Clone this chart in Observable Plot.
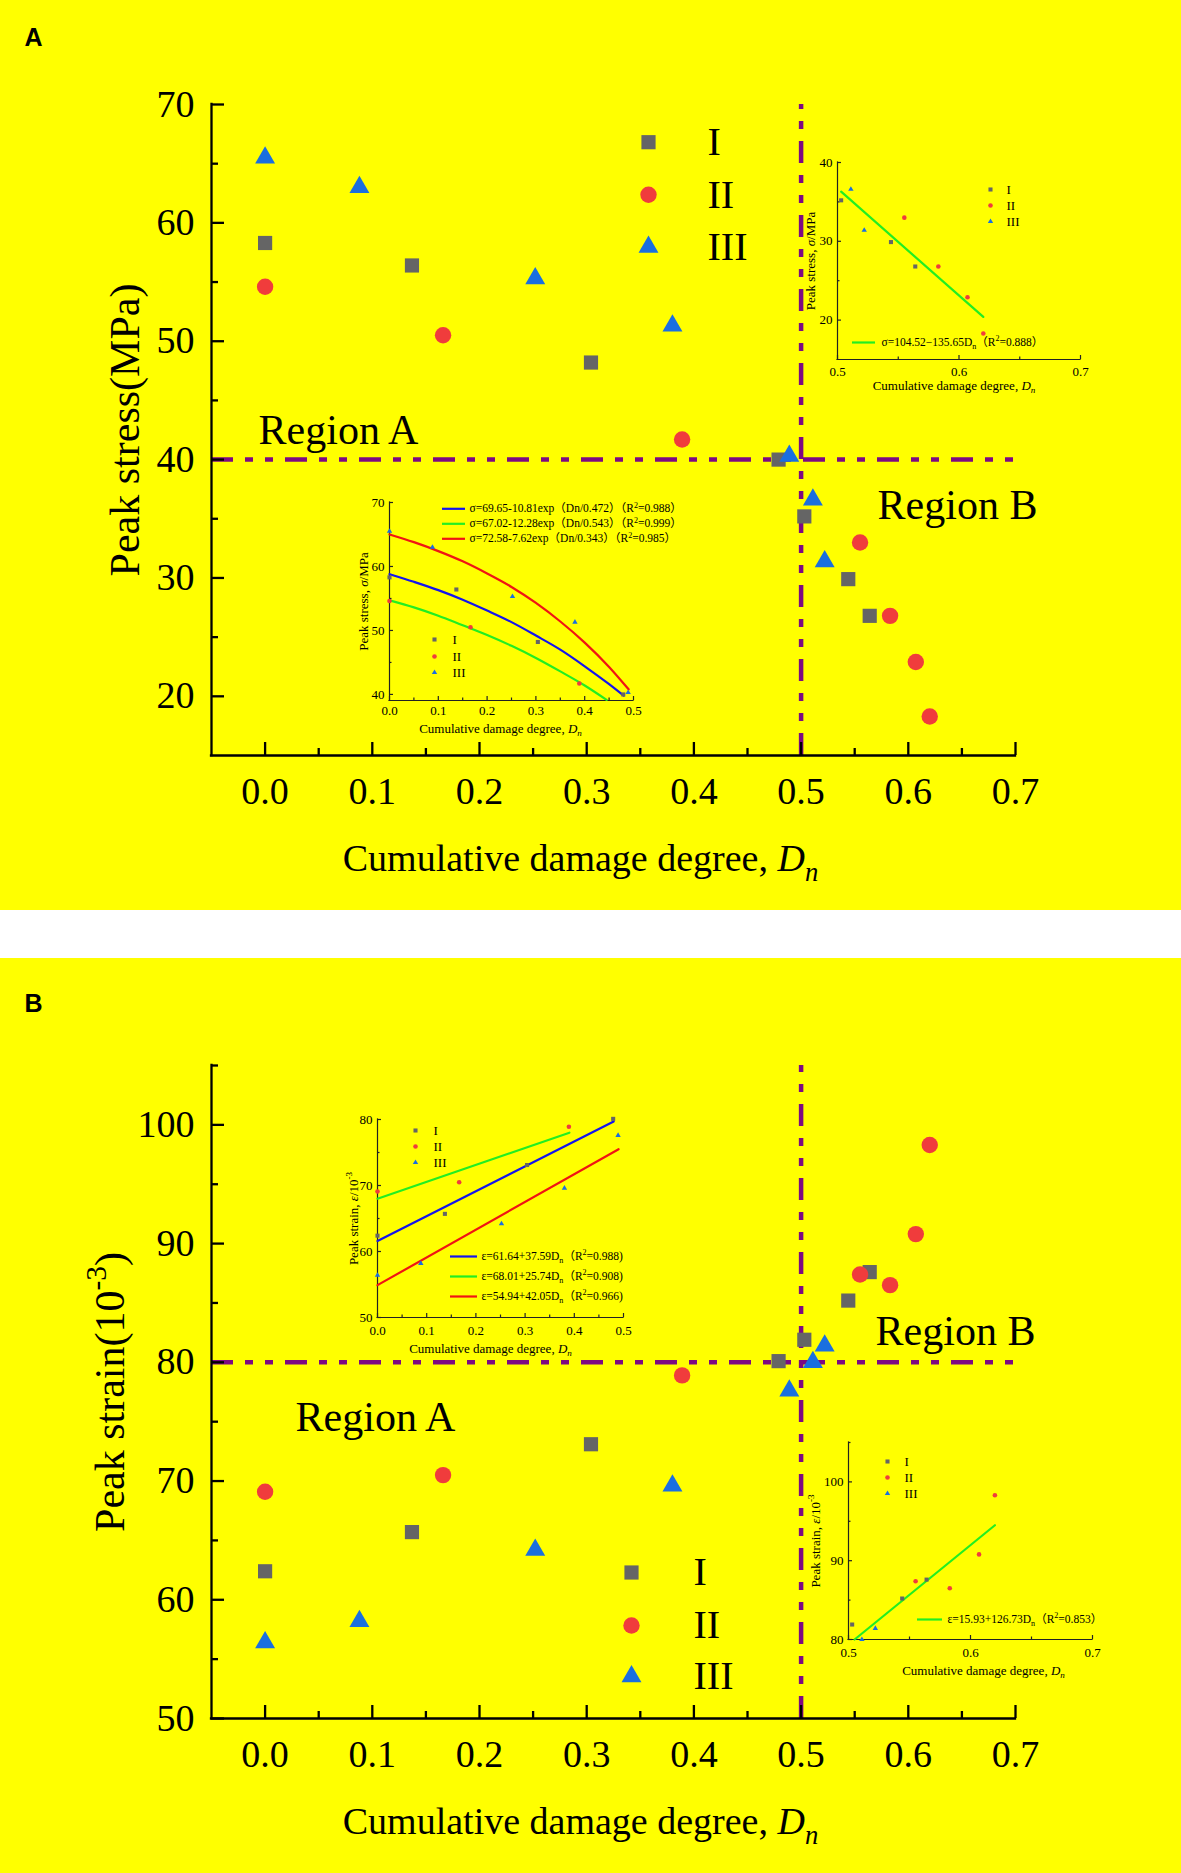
<!DOCTYPE html>
<html><head><meta charset="utf-8">
<script src="https://cdn.jsdelivr.net/npm/d3@7"></script>
<script src="https://cdn.jsdelivr.net/npm/@observablehq/plot@0.6"></script>
<style>
body{margin:0;background:#fff;}
#root{position:relative;width:1181px;height:1873px;background:#fff;overflow:hidden;}
#root svg{position:absolute;max-width:none;}
</style></head><body><div id="root"></div>
<script>
// ---------- data ----------
const series = ["I", "II", "III"];
const seriesColors = ["#656565", "#f03c3c", "#1a6fdf"];
const seriesSymbols = ["square", "circle", "triangle"];

// cumulative damage degree Dn of each sample
const dI = [0, 0.137, 0.304, 0.479, 0.503, 0.544, 0.564];
const dII = [0, 0.166, 0.389, 0.555, 0.583, 0.607, 0.620];
const dIII = [0, 0.088, 0.252, 0.380, 0.489, 0.511, 0.522];

// peak stress (MPa)
const stressI = [58.3, 56.4, 48.2, 40.0, 35.2, 29.9, 26.8];
const stressII = [54.6, 50.5, 41.7, 33.0, 26.8, 22.9, 18.3];
const stressIII = [65.5, 63.0, 55.3, 51.3, 40.3, 36.6, 31.4];

// peak strain (10^-3)
const strainI = [62.4, 65.7, 73.1, 80.1, 81.9, 85.2, 87.6];
const strainII = [69.1, 70.5, 78.9, 87.4, 86.5, 90.8, 98.3];
const strainIII = [56.4, 58.2, 64.2, 69.6, 77.6, 80.0, 81.4];

// fitted curves
const fitStressI_D = [0, 0.05, 0.1, 0.15, 0.2, 0.25, 0.3, 0.35, 0.4, 0.45, 0.48];
const fitStressI = [58.8, 57.6, 56.3, 54.8, 53.1, 51.3, 49.2, 47.0, 44.4, 41.6, 39.8];
const fitStressII_D = [0, 0.05, 0.1, 0.15, 0.2, 0.25, 0.3, 0.35, 0.4, 0.445];
const fitStressII = [54.7, 53.6, 52.3, 50.8, 49.3, 47.6, 45.7, 43.6, 41.4, 39.15];
const fitStressIII_D = [0, 0.05, 0.1, 0.15, 0.2, 0.25, 0.3, 0.35, 0.4, 0.45, 0.49];
const fitStressIII = [65.0, 63.8, 62.4, 60.8, 58.9, 56.8, 54.3, 51.4, 48.1, 44.3, 40.8];
const fitStressB_D = [0.503, 0.620];
const fitStressB = [36.3, 20.4];

const fitStrainI_D = [0, 0.48];
const fitStrainI = [61.6, 79.7];
const fitStrainII_D = [0, 0.39];
const fitStrainII = [68.0, 78.0];
const fitStrainIII_D = [0, 0.49];
const fitStrainIII = [54.9, 75.5];
const fitStrainB_D = [0.505, 0.620];
const fitStrainB = [80.0, 94.5];

const eqStress = [
  "σ=69.65-10.81exp（Dn/0.472）（R|p~2|~=0.988）",
  "σ=67.02-12.28exp（Dn/0.543）（R|p~2|~=0.999）",
  "σ=72.58-7.62exp（Dn/0.343）（R|p~2|~=0.985）"
];
const eqStressB = "σ=104.52−135.65D|b~n|~（R|p~2|~=0.888）";
const eqStrain = [
  "ε=61.64+37.59D|b~n|~（R|p~2|~=0.988)",
  "ε=68.01+25.74D|b~n|~（R|p~2|~=0.908)",
  "ε=54.94+42.05D|b~n|~（R|p~2|~=0.966)"
];
const eqStrainB = "ε=15.93+126.73D|b~n|~（R|p~2|~=0.853）";

// ticks
const xMajMain = [0, 0.1, 0.2, 0.3, 0.4, 0.5, 0.6, 0.7];
const xMinMain = [0.05, 0.15, 0.25, 0.35, 0.45, 0.55, 0.65];
const yMajA = [20, 30, 40, 50, 60, 70];
const yMinA = [25, 35, 45, 55, 65];
const yMajB = [50, 60, 70, 80, 90, 100];
const yMinB = [55, 65, 75, 85, 95, 105];
const xMajLow = [0, 0.1, 0.2, 0.3, 0.4, 0.5];
const xMinLow = [0.05, 0.15, 0.25, 0.35, 0.45];
const xMajHigh = [0.5, 0.6, 0.7];
const xMinHigh = [0.55, 0.65];

const titles = {
  x: "Cumulative damage degree, |i~D|ib~n",
  yA: "Peak stress(MPa)",
  yB: "Peak strain(10|p~-3|~)",
  yInsetA: "Peak stress, |i~σ|~/MPa",
  yInsetB: "Peak strain, |i~ε|~/10|p~-3"
};

// ---------- helpers ----------
const FONT = "'Liberation Serif','Times New Roman','Noto Sans CJK SC',serif";
const PURPLE = "#7d0a82";
const DASH = "22,12,8,12,8,12";
const fitColors = ["#1414ee", "#22ee22", "#f01414"];
const f1 = d3.format(".1f");
const rows = (ds, vs) => ds.map((D, i) => ({D, v: vs[i]}));

function axisMarks(o) {
  const st = {stroke: o.color, strokeWidth: o.sw};
  return [
    Plot.ruleX([o.xDom[0]], {y1: o.yDom[0], y2: o.yDom[1], ...st, strokeLinecap: "square"}),
    Plot.ruleY([o.yDom[0]], {x1: o.xDom[0], x2: o.xDom[1], ...st, strokeLinecap: "square"}),
    Plot.tickX(o.xMaj, {x: d => d, insetTop: o.fh - o.tMaj, ...st}),
    Plot.tickX(o.xMin, {x: d => d, insetTop: o.fh - o.tMin, ...st}),
    Plot.tickY(o.yMaj, {y: d => d, insetRight: o.fw - o.tMaj, ...st}),
    Plot.tickY(o.yMin, {y: d => d, insetRight: o.fw - o.tMin, ...st}),
    Plot.text(o.xMaj, {x: d => d, frameAnchor: "bottom", dy: o.xDy, text: f1, fontSize: o.fs, textAnchor: "middle", lineAnchor: "middle", fontFamily: FONT}),
    Plot.text(o.yMaj, {y: d => d, frameAnchor: "left", dx: o.yDx, text: d => String(d), textAnchor: "end", fontSize: o.fs, lineAnchor: "middle", fontFamily: FONT})
  ];
}

function dotsFor(sets, radii, keep) {
  return sets.map((s, k) => Plot.dot(s.filter(keep), {
    x: "D", y: "v", symbol: seriesSymbols[k], fill: seriesColors[k], r: radii[k]
  }));
}

function symbolLegend(o) {
  const marks = [];
  series.forEach((name, k) => {
    marks.push(Plot.dot([name], {frameAnchor: "top-left", dx: o.dx, dy: o.dy[k], symbol: seriesSymbols[k], fill: seriesColors[k], r: o.r[k]}));
    marks.push(Plot.text([name], {frameAnchor: "top-left", dx: o.tdx, dy: o.dy[k] + (o.tdy || 0), text: d => d, textAnchor: "start", lineAnchor: "middle", fontSize: o.fs, fontFamily: FONT}));
  });
  return marks;
}

function eqLegend(o) {
  const marks = [];
  o.eqs.forEach((eq, k) => {
    marks.push(Plot.tickY([0], {y: o.yTop, dy: o.dy[k], insetLeft: o.x0, insetRight: o.fw - o.x1, stroke: o.colors[k], strokeWidth: 2.2}));
    marks.push(Plot.text([eq], {frameAnchor: "top-left", dx: o.tdx, dy: o.dy[k], text: d => d, textAnchor: "start", lineAnchor: "middle", fontSize: o.fs, fontFamily: FONT}));
  });
  return marks;
}

function enrich(svg) {
  const ns = "http://www.w3.org/2000/svg";
  svg.querySelectorAll("text").forEach(t => {
    const s = t.textContent;
    if (!s.includes("|")) return;
    const fs = parseFloat(getComputedStyle(t).fontSize);
    while (t.firstChild) t.removeChild(t.firstChild);
    let cur = 0;
    for (const seg of s.split("|")) {
      const k = seg.indexOf("~");
      const code = k >= 0 ? seg.slice(0, k) : "";
      const txt = k >= 0 ? seg.slice(k + 1) : seg;
      if (!txt) continue;
      const ts = document.createElementNS(ns, "tspan");
      let target = 0, small = false;
      if (code.includes("i")) ts.setAttribute("font-style", "italic");
      if (code.includes("b")) { target = 0.28 * fs; small = true; }
      if (code.includes("p")) { target = -0.42 * fs; small = true; }
      if (small) ts.setAttribute("font-size", (0.7 * fs) + "px");
      if (target !== cur) ts.setAttribute("dy", (target - cur).toFixed(2));
      cur = target;
      ts.textContent = txt;
      t.appendChild(ts);
    }
  });
}

const root = document.getElementById("root");
function place(svg, left, top) {
  svg.style.left = left + "px";
  svg.style.top = top + "px";
  root.appendChild(svg);
  enrich(svg);
}

// ---------- main panels ----------
function mainPanel(o) {
  const fw = o.width - o.ml - o.mr, fh = o.height - o.mt - o.mb;
  const marks = [
    Plot.ruleY([o.hLine], {x1: o.xDom[0], x2: o.xDom[1], stroke: PURPLE, strokeWidth: 4.5, strokeDasharray: DASH}),
    Plot.ruleX([o.vLine], {y1: o.yDom[0], y2: o.yDom[1], stroke: PURPLE, strokeWidth: 4.5, strokeDasharray: DASH}),
    ...axisMarks({xDom: o.xDom, yDom: o.yDom, fw, fh, xMaj: xMajMain, xMin: xMinMain, yMaj: o.yMaj, yMin: o.yMin,
      tMaj: 13, tMin: 7, color: "#000", sw: 2.3, fs: 38, xDy: 36, yDx: -17}),
    ...dotsFor(o.sets, [8, 8.2, 7.4], () => true),
    ...symbolLegend({dx: o.leg.dx, dy: o.leg.dy, tdx: o.leg.tdx, r: [8, 8.2, 7.4], fs: 40}),
    Plot.text(["Region A"], {frameAnchor: "top-left", dx: o.regA[0], dy: o.regA[1], text: d => d, fontSize: 42, textAnchor: "middle", lineAnchor: "middle", fontFamily: FONT}),
    Plot.text(["Region B"], {frameAnchor: "top-left", dx: o.regB[0], dy: o.regB[1], text: d => d, fontSize: 42, textAnchor: "middle", lineAnchor: "middle", fontFamily: FONT}),
    Plot.text([titles.x], {frameAnchor: "bottom", dx: -33, dy: 103, text: d => d, fontSize: 38, textAnchor: "middle", lineAnchor: "middle", fontFamily: FONT}),
    Plot.text([o.yTitle], {frameAnchor: "left", dx: o.yTitleDx, rotate: -90, text: d => d, fontSize: 42, textAnchor: "middle", lineAnchor: "middle", fontFamily: FONT}),
    Plot.text([o.label], {frameAnchor: "top-left", dx: -187, dy: o.labelDy, text: d => d, fontSize: 25, fontWeight: "bold", textAnchor: "start", lineAnchor: "middle", fontFamily: "'Liberation Sans',Arial,sans-serif"})
  ];
  return Plot.plot({
    width: o.width, height: o.height,
    marginLeft: o.ml, marginRight: o.mr, marginTop: o.mt, marginBottom: o.mb,
    x: {domain: o.xDom, axis: null},
    y: {domain: o.yDom, axis: null},
    style: {background: "#ffff00", fontFamily: FONT, color: "black", overflow: "visible"},
    marks
  });
}

function insetPanel(o) {
  const fw = o.width - o.ml - o.mr, fh = o.height - o.mt - o.mb;
  const marks = [
    ...axisMarks({xDom: o.xDom, yDom: o.yDom, fw, fh, xMaj: o.xMaj, xMin: o.xMin, yMaj: o.yMaj, yMin: o.yMin,
      tMaj: 4, tMin: 2.5, color: "#222", sw: 1.2, fs: 13, xDy: o.xDy, yDx: -5}),
    ...o.fits.map((f, k) => Plot.line(f, {x: "D", y: "v", stroke: o.fitColors[k], strokeWidth: 2.2, curve: "monotone-x"})),
    ...dotsFor(o.sets, [2.3, 2.3, 2.0], o.keep),
    ...symbolLegend({dx: o.leg.dx, dy: o.leg.dy, tdx: o.leg.tdx, r: [2.3, 2.3, 2.0], fs: 13}),
    ...eqLegend({eqs: o.eq.eqs, colors: o.fitColors, yTop: o.yDom[1], dy: o.eq.dy, x0: o.eq.x0, x1: o.eq.x1, fw, tdx: o.eq.tdx, fs: 11.5}),
    Plot.text([titles.x], {frameAnchor: "bottom", dx: o.xTitle[0], dy: o.xTitle[1], text: d => d, fontSize: 13, textAnchor: "middle", lineAnchor: "middle", fontFamily: FONT}),
    Plot.text([o.yTitle], {frameAnchor: "left", dx: o.yTitleDx, rotate: -90, text: d => d, fontSize: 13, textAnchor: "middle", lineAnchor: "middle", fontFamily: FONT})
  ];
  return Plot.plot({
    width: o.width, height: o.height,
    marginLeft: o.ml, marginRight: o.mr, marginTop: o.mt, marginBottom: o.mb,
    x: {domain: o.xDom, axis: null},
    y: {domain: o.yDom, axis: null},
    style: {background: "transparent", fontFamily: FONT, color: "black", overflow: "visible"},
    marks
  });
}

const stressSets = [rows(dI, stressI), rows(dII, stressII), rows(dIII, stressIII)];
const strainSets = [rows(dI, strainI), rows(dII, strainII), rows(dIII, strainIII)];
const low = d => d.D < 0.5, high = d => d.D > 0.5;

// Panel A
place(mainPanel({
  width: 1181, height: 910, ml: 211, mr: 166, mt: 104, mb: 155,
  xDom: [-0.05, 0.7], yDom: [15, 70], yMaj: yMajA, yMin: yMinA,
  hLine: 40, vLine: 0.5, sets: stressSets,
  leg: {dx: 437, dy: [37.7, 90.3, 142.5], tdx: 496},
  regA: [127, 326], regB: [746, 401],
  yTitle: titles.yA, yTitleDx: -86, label: "A", labelDy: -66.5
}), 0, 0);

// Panel B
place(mainPanel({
  width: 1181, height: 915, ml: 211, mr: 166, mt: 107, mb: 155,
  xDom: [-0.05, 0.7], yDom: [50, 105], yMaj: yMajB, yMin: yMinB,
  hLine: 80, vLine: 0.5, sets: strainSets,
  leg: {dx: 420, dy: [507, 560, 611], tdx: 482},
  regA: [164, 352], regB: [744, 266],
  yTitle: titles.yB, yTitleDx: -101, label: "B", labelDy: -62
}), 0, 958);

// Inset A-left
place(insetPanel({
  width: 320, height: 270, ml: 49, mr: 27, mt: 22, mb: 50,
  xDom: [0, 0.5], yDom: [39.05, 70], xMaj: xMajLow, xMin: xMinLow, yMaj: [40, 50, 60, 70], yMin: [45, 55, 65],
  xDy: 10, sets: stressSets, keep: low,
  fits: [rows(fitStressI_D, fitStressI), rows(fitStressII_D, fitStressII), rows(fitStressIII_D, fitStressIII)],
  fitColors: fitColors,
  leg: {dx: 45, dy: [137, 154, 170], tdx: 63},
  eq: {eqs: eqStress, dy: [6.3, 21.3, 36.3], x0: 53, x1: 76, tdx: 80},
  xTitle: [-11, 28], yTitle: titles.yInsetA, yTitleDx: -26
}), 340, 480);

// Inset A-right
place(insetPanel({
  width: 320, height: 270, ml: 47, mr: 30, mt: 32, mb: 41,
  xDom: [0.5, 0.7], yDom: [15, 40], xMaj: xMajHigh, xMin: xMinHigh, yMaj: [20, 30, 40], yMin: [25, 35],
  xDy: 12, sets: stressSets, keep: high,
  fits: [rows(fitStressB_D, fitStressB)],
  fitColors: [fitColors[1]],
  leg: {dx: 153, dy: [27, 43, 59], tdx: 169},
  eq: {eqs: [eqStressB], dy: [180], x0: 15, x1: 38, tdx: 44},
  xTitle: [-5, 26], yTitle: titles.yInsetA, yTitleDx: -27
}), 790, 130);

// Inset B-left
place(insetPanel({
  width: 320, height: 270, ml: 47, mr: 27, mt: 19, mb: 53,
  xDom: [0, 0.5], yDom: [50, 80], xMaj: xMajLow, xMin: xMinLow, yMaj: [50, 60, 70, 80], yMin: [55, 65, 75],
  xDy: 13, sets: strainSets, keep: low,
  fits: [rows(fitStrainI_D, fitStrainI), rows(fitStrainII_D, fitStrainII), rows(fitStrainIII_D, fitStrainIII)],
  fitColors: fitColors,
  leg: {dx: 38, dy: [11, 27, 43], tdx: 56},
  eq: {eqs: eqStrain, dy: [137, 157, 177], x0: 73, x1: 100, tdx: 104},
  xTitle: [-10, 31], yTitle: titles.yInsetB, yTitleDx: -24
}), 330, 1100);

// Inset B-right
place(insetPanel({
  width: 330, height: 270, ml: 58, mr: 28, mt: 22, mb: 51,
  xDom: [0.5, 0.7], yDom: [80, 105], xMaj: xMajHigh, xMin: xMinHigh, yMaj: [80, 90, 100], yMin: [85, 95, 105],
  xDy: 13, sets: strainSets, keep: high,
  fits: [rows(fitStrainB_D, fitStrainB)],
  fitColors: [fitColors[1]],
  leg: {dx: 39, dy: [19, 35, 51], tdx: 56},
  eq: {eqs: [eqStrainB], dy: [177], x0: 69, x1: 94, tdx: 99},
  xTitle: [13, 31], yTitle: titles.yInsetB, yTitleDx: -33
}), 790, 1420);
</script>
</body></html>
